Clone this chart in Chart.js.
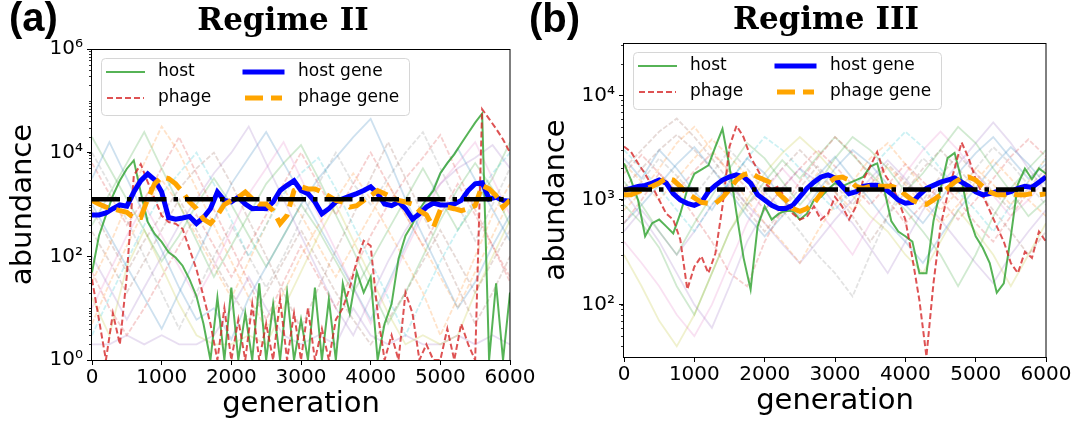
<!DOCTYPE html>
<html>
<head>
<meta charset="utf-8">
<script src="https://cdn.jsdelivr.net/npm/chart.js@4.4.0/dist/chart.umd.min.js"></script>
<style>
  body { margin: 0; background: #fff; }
  #wrap { position: relative; width: 1080px; height: 429px; }
  #chartA { position: absolute; left: 0; top: 0; }
  #chartB { position: absolute; left: 520px; top: 0; }
</style>
</head>
<body>
<div id="wrap">
  <canvas id="chartA" width="540" height="429"></canvas>
  <canvas id="chartB" width="560" height="429"></canvas>
</div>
<script>
// generations (x values)
var generations = [0,100,200,300,400,500,600,700,800,900,1000,1100,1200,1300,1400,1500,1600,1700,1800,1900,
  2000,2100,2200,2300,2400,2500,2600,2700,2800,2900,3000,3100,3200,3300,3400,3500,3600,3700,3800,3900,
  4000,4100,4200,4300,4400,4500,4600,4700,4800,4900,5000,5100,5200,5300,5400,5500,5600,5700,5800,5900,6000];
var genCoarse = [0,250,500,750,1000,1250,1500,1750,2000,2250,2500,2750,3000,3250,3500,3750,4000,4250,4500,4750,5000,5250,5500,5750,6000];
var genEnds = [0, 6000];

// ---- panel (a): Regime II ----
var hostA = [49,250,620,1480,2900,4900,7100,1700,460,270,
  190,120,95,66,36,17,5,1,16,1,
  25,1,8,1,30,1,12,1,20,1,
  6,1,25,1,15,1,30,8,50,20,
  40,1,5,12,90,250,420,800,1260,1860,
  4000,6300,9300,15000,24000,38000,57000,1,30,1,
  20];
var phageA = [36,6,1,8,2,43,3600,6000,2700,1290,
  610,460,425,340,138,56,17,5,1,10,
  1,6,1,12,1,5,1,15,1,8,
  1,10,1,4,1,6,10,25,80,200,
  160,8,1,3,1,20,8,1,2,1,
  1,4,1,5,2,1,69000,45000,29000,18000,
  10000];
var hostGeneA = [630,630,690,830,980,930,1740,2880,3900,3000,
  1740,560,520,550,590,430,560,830,1740,1200,
  1120,1380,1020,830,850,830,1120,1860,2340,2880,
  1860,1620,1120,660,830,1120,1290,1450,1620,1860,
  2190,1620,1020,950,1120,830,520,660,890,1070,
  980,980,1020,1200,1860,2510,2630,1290,1380,1200,
  1150];
var phageGeneA = [1200,1020,890,830,760,710,550,560,1290,2510,
  3390,3160,2510,1740,1120,830,520,430,620,1000,
  1200,1380,1740,1290,1020,1020,760,430,620,1860,
  2190,2000,2000,1740,1450,1200,1120,890,950,1200,
  1480,1860,1620,1380,1200,1120,1020,760,630,360,
  790,890,830,760,830,950,2340,2000,1480,890,
  1200];
var meanA = [1260, 1260];
// faint trajectories (a)
var fadeA1 = [3200,16000,3200,630,130,25,6,10,2.5,16,63,250,1000,3200,8000,20000,45000,8000,1260,250,50,10,32,160,630];
var fadeA2 = [32,160,1000,6300,32000,10000,2000,400,80,16,4,20,100,400,1260,4000,1260,320,80,20,3,16,100,630,2500];
var fadeA3 = [400,1600,6300,25000,5000,1000,200,40,160,630,2500,6300,14000,3200,630,130,25,5,20,100,500,2000,6300,2000,400];
var fadeA4 = [6300,1600,400,1260,5000,20000,4000,800,160,32,6,32,160,40,10,50,250,1000,3200,8000,22000,4000,800,160,32];
var fadeA5 = [100,25,6,25,100,400,1260,4000,10000,32000,6300,1260,250,50,10,3,16,80,320,1000,2500,5000,8000,14000,5000];
var fadeA6 = [800,200,50,200,630,2000,5000,10000,2500,500,100,20,4,25,130,630,3200,16000,3200,630,130,25,5,20,100];
var fadeA7 = [10,50,250,1000,250,63,16,63,320,1600,5000,16000,3200,630,130,25,5,25,130,630,2500,6300,16000,3200,630];
var fadeA8 = [10000,2500,500,100,20,4,20,100,400,100,25,100,500,2500,10000,2500,1000,3200,10000,25000,5000,1000,200,1000,5000];
var fadeA9 = [16,3,63,320,63,12,3,2,2,3,2,10,50,250,1000,200,40,8,2,3,2,3,20,100,500];
var fadeA10 = [3,16,80,400,1600,4000,10000,2500,500,100,400,1600,4000,8000,2000,400,80,16,3,16,80,320,1260,4000,10000];
var fadeA11 = [1000,250,63,16,4,20,100,500,2500,8000,25000,6300,1600,400,100,25,6,30,160,800,4000,12000,3000,800,200];
var fadeA12 = [5,30,160,800,3000,1000,250,63,16,80,400,2000,630,160,40,160,630,2500,630,160,40,10,50,250,1260];
var fadeA13 = [20000,5000,1260,320,80,250,1000,3200,1000,250,63,250,1000,320,80,20,80,320,1260,5000,1260,320,1000,3200,16000];
var fadeA14 = [50,10,3,10,40,160,630,160,40,160,630,2500,10000,2500,630,2500,10000,2500,630,160,630,2500,630,160,40];
var fadeA15 = [2,2,3,2,3,2,2,3,10,40,10,3,2,3,2,10,3,2,3,2,2,3,2,3,2];
var fadeA16 = [300,80,20,80,320,1260,320,80,20,6,20,80,320,80,20,6,2,6,20,80,320,80,20,80,320];

// ---- panel (b): Regime III ----
var hostB = [2240,1550,1000,450,600,650,560,480,740,1260,
  1780,1950,2140,3240,4790,2090,740,280,140,560,
  870,650,740,790,780,650,740,1000,1070,1260,
  1450,1350,1450,1550,1660,2090,2240,1260,630,500,
  450,400,200,200,630,1260,2510,2820,1550,710,
  450,350,250,130,160,450,1410,2000,1580,2000,
  1780];
var phageB = [3240,2880,2240,1780,1350,1000,740,650,420,140,
  230,290,200,310,870,3240,5130,3980,2570,1950,
  1450,1260,1350,1000,740,650,690,870,650,740,
  1070,870,650,870,1550,2090,2880,1780,1410,1000,
  650,280,110,32,160,560,1120,2000,3550,2510,
  1580,1120,790,560,400,250,200,320,280,500,
  400];
var hostGeneB = [1240,1290,1350,1380,1450,1550,1450,1150,1000,930,
  890,950,1200,1380,1550,1660,1740,1660,1450,1120,
  1000,890,830,830,890,1070,1290,1480,1660,1740,
  1620,1350,1150,1200,1350,1380,1380,1290,1150,1000,
  930,950,1120,1290,1380,1480,1550,1620,1480,1350,
  1200,1120,1150,1200,1150,1200,1290,1350,1320,1480,
  1660];
var phageGeneB = [1120,1120,1200,1260,1350,1450,1620,1550,1350,1150,
  1050,950,930,930,1050,1260,1550,1740,1820,1660,
  1550,1450,1150,1000,830,780,830,930,1150,1450,
  1620,1660,1550,1350,1290,1350,1350,1350,1350,1290,
  1120,1000,930,910,1000,1120,1290,1480,1620,1660,
  1550,1350,1200,1120,1120,1150,1120,1120,1150,1120,
  1150];
var meanB = [1260, 1260];
var fadeB1 = [2500,1600,3000,2000,1200,800,1500,2500,1800,1000,700,1200,2000,3000,2200,1400,900,600,1000,1800,2800,4000,2500,1600,2200];
var fadeB2 = [800,1200,2000,3500,5000,3000,1800,1000,600,400,250,500,900,1500,2500,3500,2200,1300,800,1200,2000,1400,900,1500,2500];
var fadeB3 = [1500,900,500,300,600,1100,2000,3500,2500,1500,900,1400,2500,4000,3000,2000,1200,1800,3000,5000,3500,2000,1200,700,1000];
var fadeB4 = [600,1000,1800,1200,700,400,200,150,400,800,1500,2500,4000,2800,1700,1000,600,900,1500,1000,600,400,700,1200,1800];
var fadeB5 = [1200,700,400,200,100,60,150,400,800,1300,2000,1500,900,600,350,200,400,800,1400,2200,3500,5500,3500,2000,1200];
var fadeB6 = [2000,3000,4500,6000,4000,2500,1500,900,1300,2000,3000,2000,1200,700,400,700,1200,2000,3000,2000,1300,800,500,300,500];
var fadeB7 = [400,250,150,80,50,100,250,600,1200,2000,1300,800,500,300,600,1000,1800,3000,4500,3000,1800,1100,700,1000,1600];
var fadeB8 = [1000,1500,2500,1700,1100,1800,3000,2000,1200,800,500,300,200,120,300,700,1500,2500,1800,1200,2000,3200,2200,1400,900];
var fadeB9 = [300,150,70,40,80,200,500,1000,1800,2800,4000,2800,1800,1100,700,500,300,200,400,800,500,300,150,300,600];
var fadeB10 = [3000,2000,1300,800,500,900,1500,2500,4000,3000,2000,1200,800,1300,2000,3000,4500,3200,2000,1200,800,500,900,1500,2500];
var fadeB11 = [600,900,1400,2200,3200,2000,1200,700,450,700,1100,1700,2600,1600,1000,600,400,250,450,800,1300,2100,3200,2200,1400];
var fadeB12 = [2200,1500,1000,1600,2500,3800,2600,1700,1100,700,1100,1800,1200,800,1300,2100,1400,900,600,900,1500,2400,1600,1000,700];
var fadeB13 = [900,600,350,150,80,200,500,900,1500,2400,1600,2600,4000,2700,1800,1200,800,500,300,150,300,700,1300,2000,3000];
var fadeB14 = [1800,2700,1800,1200,1900,2800,1900,1300,800,1300,2000,3000,2100,1400,900,1400,2200,1500,1000,650,1000,1600,2600,3800,2600];
var fadeB15 = [500,800,500,300,500,900,1400,900,600,380,250,400,650,1000,1600,2400,1600,1000,650,400,250,160,300,500,800];
var fadeB16 = [1300,2000,3000,4200,3000,2000,1300,800,500,800,1300,2100,1400,900,1400,2200,1500,1000,1700,2700,1800,1200,800,1300,2000];

// tick labels
var yTicksA = [1, 100, 10000, 1000000];
var yTicksB = [100, 1000, 10000];
var xTicks = [0, 1000, 2000, 3000, 4000, 5000, 6000];

var fadeColors = ['rgba(31,119,180,0.22)','rgba(255,127,14,0.22)','rgba(44,160,44,0.22)','rgba(214,39,40,0.22)',
  'rgba(148,103,189,0.22)','rgba(140,86,75,0.22)','rgba(227,119,194,0.22)','rgba(127,127,127,0.22)',
  'rgba(188,189,34,0.22)','rgba(23,190,207,0.22)'];

var GREEN = 'rgba(44,160,44,0.8)';
var RED = 'rgba(214,39,40,0.8)';
var BLUE = '#0000ff';
var ORANGE = '#ffa500';

var legendItems = [
  {label: 'host', color: GREEN, width: 2, dash: [], col: 0, row: 0},
  {label: 'phage', color: RED, width: 2, dash: [6, 3], col: 0, row: 1},
  {label: 'host gene', color: BLUE, width: 5, dash: [], col: 1, row: 0},
  {label: 'phage gene', color: ORANGE, width: 5, dash: [18, 8], col: 1, row: 1}
];

var sup = {0: '\u2070', 1: '\u00b9', 2: '\u00b2', 3: '\u00b3', 4: '\u2074', 5: '\u2075', 6: '\u2076'};

function pts(xs, ys) {
  return ys.map(function (v, i) { return {x: xs[i], y: v}; });
}

function minorTicks(lo, hi) {
  var out = [];
  for (var p = 1; p <= 1e6; p *= 10) {
    for (var m = 1; m < 10; m++) {
      var v = m * p;
      if (v >= lo * 0.999 && v <= hi * 1.001) out.push(v);
    }
  }
  return out;
}

function lineSet(xs, ys, color, width, dash, order) {
  return {data: pts(xs, ys), borderColor: color, borderWidth: width, borderDash: dash,
    pointRadius: 0, fill: false, tension: 0, clip: 0, order: order};
}

function buildSets(host, phage, hostGene, phageGene, mean, fades) {
  var sets = [
    lineSet(genEnds, mean, '#000', 4.5, [28, 7, 4.5, 7], 0),
    lineSet(generations, phageGene, ORANGE, 5, [18, 8], 1),
    lineSet(generations, hostGene, BLUE, 5, [], 2),
    lineSet(generations, phage, RED, 2, [6, 3], 3),
    lineSet(generations, host, GREEN, 2, [], 4)
  ];
  fades.forEach(function (f, i) {
    sets.push(lineSet(genCoarse, f, fadeColors[i % 10], 1.8, i % 2 ? [5, 2] : [], 5 + i));
  });
  return sets;
}

var decor = {
  id: 'decor',
  afterDraw: function (chart, args, o) {
    var ctx = chart.ctx, a = chart.chartArea, ys = chart.scales.y;
    ctx.save();
    // minor ticks on the log axis
    ctx.strokeStyle = '#000';
    ctx.lineWidth = 0.8;
    minorTicks(ys.min, ys.max).forEach(function (v) {
      var py = Math.round(ys.getPixelForValue(v)) + 0.5;
      ctx.beginPath(); ctx.moveTo(a.left - 3, py); ctx.lineTo(a.left, py); ctx.stroke();
    });
    // frame
    ctx.lineWidth = 1;
    ctx.strokeRect(a.left - 0.5, a.top + 0.5, a.right - a.left + 0.5, a.bottom - a.top);

    // legend box
    var bx = a.left + 9, by = a.top + 9, bw = 308, bh = 57;
    ctx.beginPath();
    ctx.roundRect(bx + 0.5, by + 0.5, bw, bh, 4);
    ctx.fillStyle = 'rgba(255,255,255,0.8)';
    ctx.fill();
    ctx.strokeStyle = '#d6d6d6';
    ctx.stroke();
    ctx.font = '17px "DejaVu Sans"';
    ctx.textBaseline = 'middle';
    ctx.textAlign = 'left';
    legendItems.forEach(function (it) {
      var ly = by + (it.row ? 40 : 14);
      var lx = bx + (it.col ? 144 : 6);
      ctx.beginPath();
      ctx.setLineDash(it.dash);
      ctx.lineWidth = it.width;
      ctx.strokeStyle = it.color;
      ctx.lineCap = it.dash.length ? 'butt' : 'square';
      ctx.moveTo(lx, ly); ctx.lineTo(lx + 37, ly);
      ctx.stroke();
      ctx.setLineDash([]);
      ctx.fillStyle = '#000';
      ctx.fillText(it.label, bx + (it.col ? 197 : 57), ly);
    });

    // panel tag and title
    ctx.fillStyle = '#000';
    ctx.textBaseline = 'alphabetic';
    ctx.font = 'bold 40px "Liberation Sans"';
    ctx.fillText(o.tag, o.tagX, o.tagY);
    ctx.textAlign = 'center';
    ctx.font = 'bold 31px "DejaVu Serif"';
    ctx.fillText(o.title, o.titleX, o.titleY);
    ctx.restore();
  }
};

function makeChart(id, sets, box, yMin, yMax, yTicks, yTitlePad, xTitlePad, deco) {
  var W = document.getElementById(id).width, H = document.getElementById(id).height;
  return new Chart(document.getElementById(id), {
    type: 'line',
    data: {datasets: sets},
    plugins: [decor],
    options: {
      responsive: false,
      animation: false,
      devicePixelRatio: 1,
      events: [],
      layout: {padding: {left: 0, top: box.top, right: W - box.right, bottom: 0}},
      plugins: {legend: {display: false}, tooltip: {enabled: false}, decor: deco},
      scales: {
        x: {
          type: 'linear', min: 0, max: 6000,
          afterFit: function (s) { s.height = H - box.bottom; },
          afterBuildTicks: function (s) { s.ticks = xTicks.map(function (v) { return {value: v}; }); },
          border: {display: false},
          grid: {drawOnChartArea: false, drawTicks: true, tickLength: 5, color: '#000'},
          ticks: {autoSkip: false, maxRotation: 0, padding: 1, color: '#000',
            font: {family: 'DejaVu Sans', size: 20},
            callback: function (v) { return String(v); }},
          title: {display: true, text: 'generation', color: '#000',
            font: {family: 'DejaVu Sans', size: 29}, padding: {top: 0, bottom: xTitlePad}}
        },
        y: {
          type: 'logarithmic', min: yMin, max: yMax,
          afterFit: function (s) { s.width = box.left; },
          afterBuildTicks: function (s) { s.ticks = yTicks.map(function (v) { return {value: v}; }); },
          border: {display: false},
          grid: {drawOnChartArea: false, drawTicks: true, tickLength: 5, color: '#000'},
          ticks: {padding: 4, color: '#000', font: {family: 'DejaVu Sans', size: 20},
            callback: function (v) { return '10' + sup[Math.round(Math.log10(v))]; }},
          title: {display: true, text: 'abundance', color: '#000',
            font: {family: 'DejaVu Sans', size: 29}, padding: {top: yTitlePad, bottom: 0}}
        }
      }
    }
  });
}

makeChart('chartA',
  buildSets(hostA, phageA, hostGeneA, phageGeneA, meanA,
    [fadeA1, fadeA2, fadeA3, fadeA4, fadeA5, fadeA6, fadeA7, fadeA8, fadeA9, fadeA10,
     fadeA11, fadeA12, fadeA13, fadeA14, fadeA15, fadeA16]),
  {left: 92, right: 510, top: 49, bottom: 360}, 1, 1000000, yTicksA, 6.5, 7,
  {tag: '(a)', tagX: 9, tagY: 31, title: 'Regime II', titleX: 283, titleY: 30});

makeChart('chartB',
  buildSets(hostB, phageB, hostGeneB, phageGeneB, meanB,
    [fadeB1, fadeB2, fadeB3, fadeB4, fadeB5, fadeB6, fadeB7, fadeB8, fadeB9, fadeB10,
     fadeB11, fadeB12, fadeB13, fadeB14, fadeB15, fadeB16]),
  {left: 104, right: 526, top: 43, bottom: 357}, 31.62, 31623, yTicksB, 19.5, 10,
  {tag: '(b)', tagX: 9, tagY: 31.5, title: 'Regime III', titleX: 306, titleY: 28.5});
</script>
</body>
</html>
